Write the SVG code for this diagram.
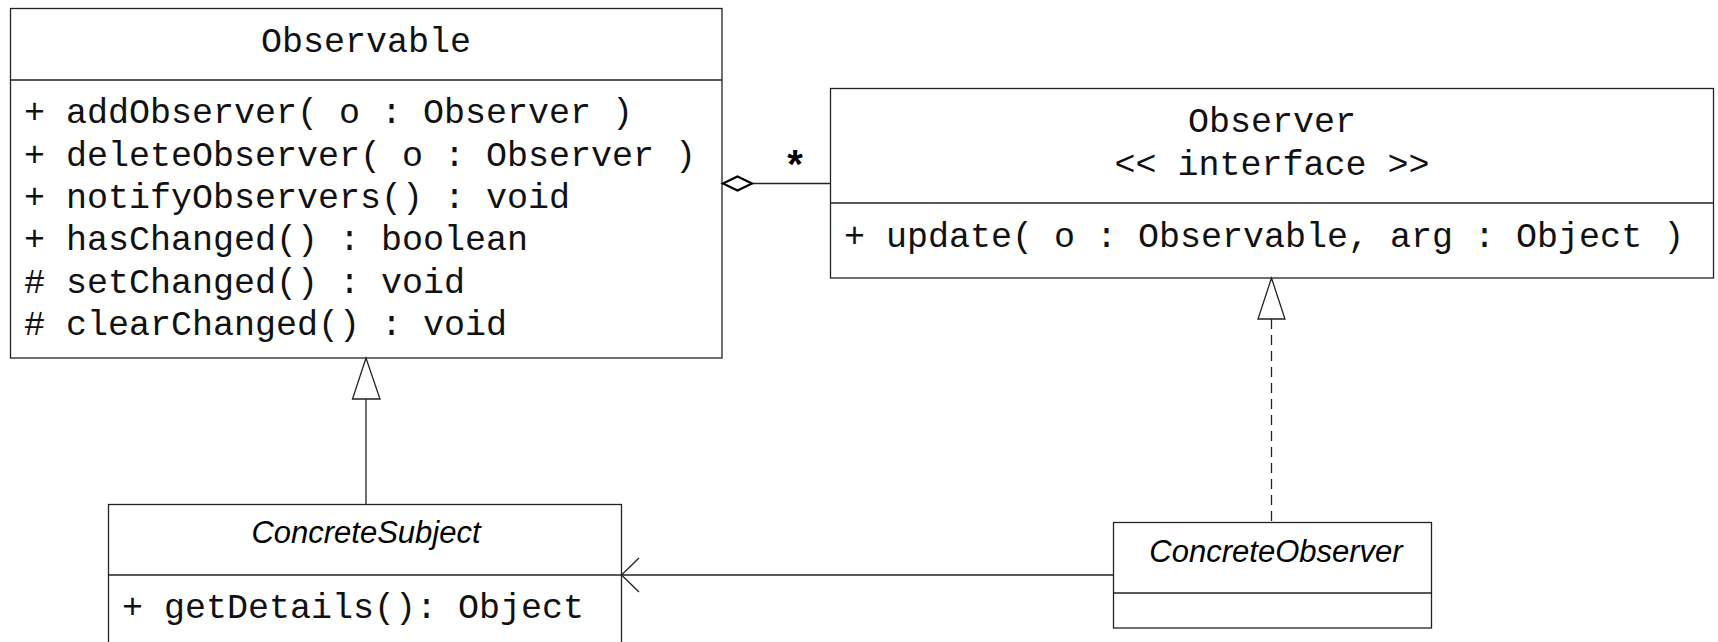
<svg xmlns="http://www.w3.org/2000/svg" width="1718" height="642" viewBox="0 0 1718 642">
<style>
.box{fill:#fff;stroke:#222;stroke-width:1.3}
.div{stroke:#222;stroke-width:1.3}
.mono{font-family:"Liberation Mono","Courier New",monospace;font-size:35px;fill:#111}
.ital{font-family:"Liberation Sans",Arial,sans-serif;font-size:31px;font-style:italic;fill:#000}
.ln{stroke:#222;stroke-width:1.3;fill:none}
</style>
<rect width="1718" height="642" fill="#fff"/>
<g id="Observable">
<rect class="box" x="10.5" y="8.5" width="711.5" height="349.5"/>
<line class="div" x1="10.5" y1="80" x2="722" y2="80"/>
<text class="mono" x="366" y="52" text-anchor="middle">Observable</text>
<text class="mono" x="24" y="123">+ addObserver( o : Observer )</text>
<text class="mono" x="24" y="166">+ deleteObserver( o : Observer )</text>
<text class="mono" x="24" y="208">+ notifyObservers() : void</text>
<text class="mono" x="24" y="250">+ hasChanged() : boolean</text>
<text class="mono" x="24" y="293"># setChanged() : void</text>
<text class="mono" x="24" y="335"># clearChanged() : void</text>
</g>
<g id="Observer">
<rect class="box" x="830.5" y="88.5" width="883" height="189.5"/>
<line class="div" x1="830.5" y1="203" x2="1713.5" y2="203"/>
<text class="mono" x="1272" y="132" text-anchor="middle">Observer</text>
<text class="mono" x="1272" y="175" text-anchor="middle">&lt;&lt; interface &gt;&gt;</text>
<text class="mono" x="844" y="247">+ update( o : Observable, arg : Object )</text>
</g>
<g id="ConcreteSubject">
<rect class="box" x="108.5" y="504.5" width="513" height="150"/>
<line class="div" x1="108.5" y1="575" x2="621.5" y2="575"/>
<text class="ital" x="366" y="543" text-anchor="middle">ConcreteSubject</text>
<text class="mono" x="122" y="618">+ getDetails(): Object</text>
</g>
<g id="ConcreteObserver">
<rect class="box" x="1113.5" y="522.5" width="318" height="105.5"/>
<line class="div" x1="1113.5" y1="593" x2="1431.5" y2="593"/>
<text class="ital" x="1276" y="561.5" text-anchor="middle" font-size="31.5">ConcreteObserver</text>
</g>
<g id="connectors">
<!-- aggregation -->
<line class="ln" x1="752" y1="183.5" x2="830.5" y2="183.5"/>
<polygon points="723,183.5 737.5,176.5 752,183.5 737.5,190.5" fill="#fff" stroke="#000" stroke-width="2.2"/>
<text x="795" y="178" text-anchor="middle" font-family="Liberation Sans, Arial, sans-serif" font-size="40" font-weight="bold" fill="#000">*</text>
<!-- generalization -->
<line class="ln" x1="366" y1="399" x2="366" y2="504.5"/>
<polygon points="366,358 352.5,399 380,399" fill="#fff" stroke="#222" stroke-width="1.3"/>
<!-- realization -->
<line class="ln" x1="1271.5" y1="319" x2="1271.5" y2="522.5" stroke-dasharray="10,6"/>
<polygon points="1271.5,278 1258,319 1285,319" fill="#fff" stroke="#222" stroke-width="1.3"/>
<!-- association -->
<line class="ln" x1="621.5" y1="575" x2="1113.5" y2="575"/>
<polyline class="ln" points="639,558 621.5,575 639,592"/>
</g>
</svg>
